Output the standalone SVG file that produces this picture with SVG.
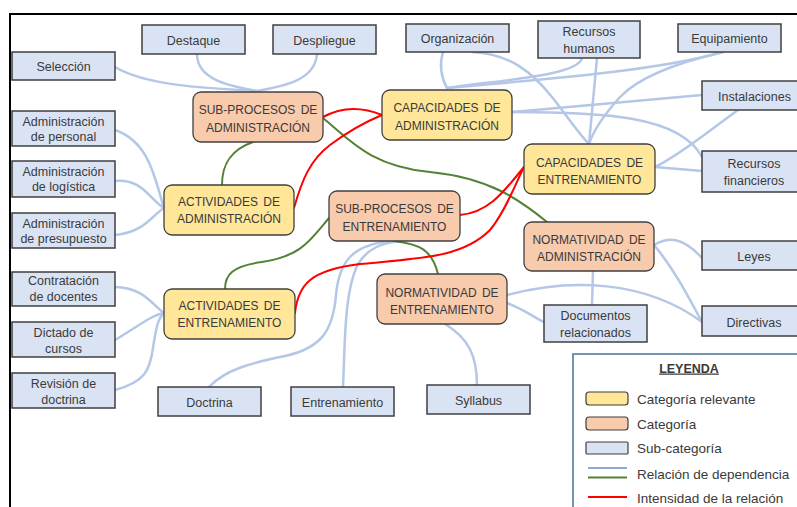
<svg xmlns="http://www.w3.org/2000/svg" width="797" height="507" viewBox="0 0 797 507">
<style>
.sub rect{fill:#dae3f3;stroke:#3f3f3f;stroke-width:1.5}
.rel rect{fill:#ffe699;stroke:#3f3f3f;stroke-width:1.3}
.cat rect{fill:#f8cbad;stroke:#3f3f3f;stroke-width:1.3}
text{font-family:"Liberation Sans",Arial,sans-serif;fill:#3a3a3a;text-anchor:middle}
.sub text{font-size:12.5px}
.rel text,.cat text{font-size:12px;word-spacing:2px}
.b{fill:none;stroke:#b4c7e7;stroke-width:2.5;stroke-linecap:round}
.g{fill:none;stroke:#548235;stroke-width:2;stroke-linecap:round}
.r{fill:none;stroke:#ff0000;stroke-width:2;stroke-linecap:round}
.leg text{text-anchor:start;font-size:13.5px}
</style>
<rect x="0" y="0" width="797" height="507" fill="#ffffff"/>
<path d="M10,507 V14 H797" fill="none" stroke="#000" stroke-width="2"/>

<g id="connectors">
<!-- blue -->
<path class="b" d="M115,67 C145,85 200,88 257,91"/>
<path class="b" d="M197,54 C197,80 230,86 257,91"/>
<path class="b" d="M317,54 C315,80 285,86 257,91"/>
<path class="b" d="M115,130 C150,142 155,180 164,208"/>
<path class="b" d="M115,181 C142,178 150,200 164,208"/>
<path class="b" d="M115,235 C145,232 152,215 164,208"/>
<path class="b" d="M115,287 C145,288 152,305 164,313"/>
<path class="b" d="M115,340 C140,325 152,315 164,313"/>
<path class="b" d="M115,390 C145,382 150,370 153,348 C156,328 158,318 164,313"/>
<path class="b" d="M209,387 C225,370 250,363 285,356 C322,348 333,330 336,295 C339,262 352,244 393,241"/>
<path class="b" d="M343,387 C345,345 344,292 358,264 C368,248 382,243 400,241"/>
<path class="b" d="M445,324 C468,338 477,355 477,385"/>
<path class="b" d="M507,295 C570,278 645,280 702,322"/>
<path class="b" d="M507,303 C525,310 535,318 544,322"/>
<path class="b" d="M593,271 L592,305"/>
<path class="b" d="M654,245 C668,237 682,236 702,258"/>
<path class="b" d="M654,245 C675,270 690,300 702,322"/>
<path class="b" d="M447,88 C440,75 440,62 443,52"/>
<path class="b" d="M447,88 C500,80 578,76 582,58"/>
<path class="b" d="M447,88 C560,78 660,70 723,52"/>
<path class="b" d="M472,52 C510,54 532,72 552,97 C570,120 580,135 589,144"/>
<path class="b" d="M597,58 L589,144"/>
<path class="b" d="M723,52 C680,62 640,76 620,97 C602,117 593,132 589,144"/>
<path class="b" d="M512,112 C580,106 650,100 702,95"/>
<path class="b" d="M512,112 C600,112 680,115 702,157"/>
<path class="b" d="M738,110 C710,130 680,155 655,167"/>
<path class="b" d="M655,167 L702,171"/>
<!-- green -->
<path class="g" d="M253,142 C230,150 222,165 222,185"/>
<path class="g" d="M323,118 C350,140 370,166 430,172 C490,178 520,200 547,222"/>
<path class="g" d="M329,218 C310,240 302,256 262,262 C232,266 225,275 225,289"/>
<path class="g" d="M394,241 C420,244 432,250 438,274"/>
<!-- red -->
<path class="r" d="M323,117 C345,105 365,108 382,115"/>
<path class="r" d="M294,208 C302,180 310,160 330,145 C350,130 370,120 382,115"/>
<path class="r" d="M460,215 C490,212 505,190 524,167"/>
<path class="r" d="M295,313 C298,285 310,270 360,264 C420,258 462,258 490,230 C505,212 515,185 524,167"/>
</g>

<g id="seleccion" class="sub"><rect x="12" y="52" width="103" height="28"/><text x="63.5" y="71">Selección</text></g>
<g id="destaque" class="sub"><rect x="142" y="25" width="103" height="29"/><text x="193.5" y="44.5">Destaque</text></g>
<g id="despliegue" class="sub"><rect x="273" y="25" width="103" height="29"/><text x="324.5" y="44.5">Despliegue</text></g>
<g id="organizacion" class="sub"><rect x="406" y="24" width="103" height="28"/><text x="457.5" y="42.5">Organización</text></g>
<g id="recursos-humanos" class="sub"><rect x="538" y="21" width="102" height="37"/><text x="589" y="36">Recursos</text><text x="589" y="52.5">humanos</text></g>
<g id="equipamiento" class="sub"><rect x="678" y="24" width="103" height="28"/><text x="729.5" y="42.5">Equipamiento</text></g>
<g id="instalaciones" class="sub"><rect x="702" y="81" width="104" height="29"/><text x="754.5" y="100.5">Instalaciones</text></g>
<g id="recursos-financieros" class="sub"><rect x="702" y="151" width="104" height="41"/><text x="754" y="167.5">Recursos</text><text x="754" y="185">financieros</text></g>
<g id="leyes" class="sub"><rect x="702" y="241" width="104" height="29"/><text x="754" y="260.5">Leyes</text></g>
<g id="directivas" class="sub"><rect x="702" y="306" width="104" height="30"/><text x="754" y="326.5">Directivas</text></g>
<g id="documentos" class="sub"><rect x="544" y="305" width="103" height="37"/><text x="595.5" y="320">Documentos</text><text x="595.5" y="337">relacionados</text></g>
<g id="syllabus" class="sub"><rect x="427" y="385" width="103" height="29"/><text x="478.5" y="404.5">Syllabus</text></g>
<g id="doctrina" class="sub"><rect x="158" y="387" width="103" height="29"/><text x="209.5" y="406.5">Doctrina</text></g>
<g id="entrenamiento" class="sub"><rect x="291" y="387" width="103" height="29"/><text x="342.5" y="406.5">Entrenamiento</text></g>
<g id="adm-personal" class="sub"><rect x="12" y="111" width="103" height="35"/><text x="63.5" y="126">Administración</text><text x="63.5" y="141">de personal</text></g>
<g id="adm-logistica" class="sub"><rect x="12" y="161" width="103" height="36"/><text x="63.5" y="176">Administración</text><text x="63.5" y="191">de logística</text></g>
<g id="adm-presupuesto" class="sub"><rect x="12" y="213" width="103" height="35"/><text x="63.5" y="228">Administración</text><text x="63.5" y="243">de presupuesto</text></g>
<g id="contratacion" class="sub"><rect x="12" y="272" width="103" height="34"/><text x="63.5" y="285">Contratación</text><text x="63.5" y="301">de docentes</text></g>
<g id="dictado" class="sub"><rect x="12" y="322" width="103" height="35"/><text x="63.5" y="337">Dictado de</text><text x="63.5" y="353">cursos</text></g>
<g id="revision" class="sub"><rect x="12" y="373" width="103" height="35"/><text x="63.5" y="388">Revisión de</text><text x="63.5" y="404">doctrina</text></g>

<g id="subprocesos-admin" class="cat"><rect x="193" y="92" width="130" height="50" rx="8"/><text x="258" y="114">SUB-PROCESOS DE</text><text x="258" y="132">ADMINISTRACIÓN</text></g>
<g id="capacidades-admin" class="rel"><rect x="382" y="90" width="130" height="50" rx="8"/><text x="447" y="112">CAPACIDADES DE</text><text x="447" y="130">ADMINISTRACIÓN</text></g>
<g id="capacidades-ent" class="rel"><rect x="524" y="144" width="131" height="50" rx="8"/><text x="589.5" y="166.5">CAPACIDADES DE</text><text x="589.5" y="184">ENTRENAMIENTO</text></g>
<g id="actividades-admin" class="rel"><rect x="164" y="185" width="130" height="50" rx="8"/><text x="229" y="206">ACTIVIDADES DE</text><text x="229" y="223">ADMINISTRACIÓN</text></g>
<g id="subprocesos-ent" class="cat"><rect x="329" y="191" width="131" height="50" rx="8"/><text x="394.5" y="213">SUB-PROCESOS DE</text><text x="394.5" y="231">ENTRENAMIENTO</text></g>
<g id="normatividad-admin" class="cat"><rect x="524" y="222" width="130" height="49" rx="8"/><text x="589" y="244">NORMATIVIDAD DE</text><text x="589" y="261">ADMINISTRACIÓN</text></g>
<g id="actividades-ent" class="rel"><rect x="164" y="289" width="131" height="50" rx="8"/><text x="229.5" y="310">ACTIVIDADES DE</text><text x="229.5" y="327">ENTRENAMIENTO</text></g>
<g id="normatividad-ent" class="cat"><rect x="377" y="274" width="130" height="50" rx="8"/><text x="442" y="297">NORMATIVIDAD DE</text><text x="442" y="314">ENTRENAMIENTO</text></g>

<g id="leyenda" class="leg">
<rect x="573" y="354" width="240" height="170" fill="#fff" stroke="#41719c" stroke-width="1.5"/>
<text x="689" y="372.5" style="text-anchor:middle;font-weight:bold;font-size:12.5px;text-decoration:underline">LEYENDA</text>
<rect x="586" y="392" width="42" height="13" rx="3" fill="#ffe699" stroke="#3f3f3f" stroke-width="1.2"/>
<text x="637" y="404">Categoría relevante</text>
<rect x="586" y="417" width="42" height="13" rx="3" fill="#f8cbad" stroke="#3f3f3f" stroke-width="1.2"/>
<text x="637" y="429">Categoría</text>
<rect x="586" y="442" width="42" height="12" rx="1" fill="#dae3f3" stroke="#3f3f3f" stroke-width="1.2"/>
<text x="637" y="453">Sub-categoría</text>
<line x1="588" y1="468" x2="627" y2="468" stroke="#8eaadb" stroke-width="2"/>
<line x1="588" y1="477.5" x2="627" y2="477.5" stroke="#548235" stroke-width="2"/>
<text x="637" y="479">Relación de dependencia</text>
<line x1="588" y1="497" x2="627" y2="497" stroke="#ff0000" stroke-width="2"/>
<text x="637" y="503">Intensidad de la relación</text>
</g>
</svg>
